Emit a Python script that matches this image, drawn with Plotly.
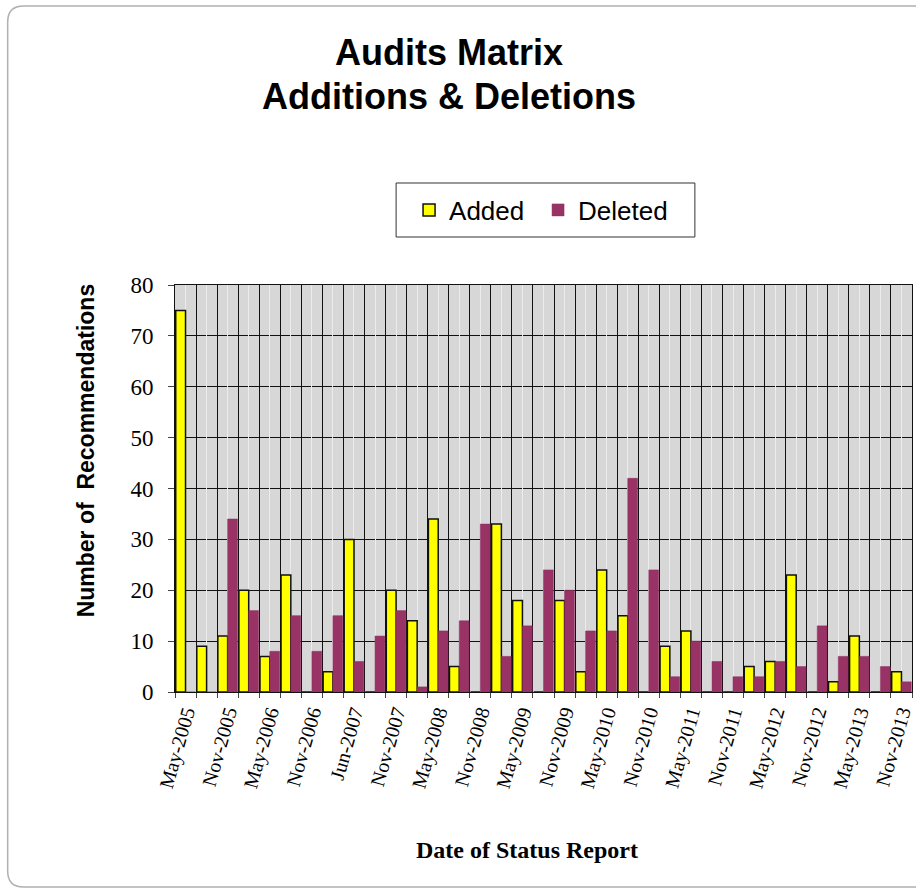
import plotly.graph_objects as go

categories = [
    "May-2005", "Aug-2005", "Nov-2005", "Feb-2006", "May-2006", "Aug-2006",
    "Nov-2006", "Mar-2007", "Jun-2007", "Aug-2007", "Nov-2007", "Feb-2008",
    "May-2008", "Aug-2008", "Nov-2008", "Feb-2009", "May-2009", "Aug-2009",
    "Nov-2009", "Feb-2010", "May-2010", "Aug-2010", "Nov-2010", "Feb-2011",
    "May-2011", "Aug-2011", "Nov-2011", "Feb-2012", "May-2012", "Aug-2012",
    "Nov-2012", "Feb-2013", "May-2013", "Aug-2013", "Nov-2013",
]
added = [75, 9, 11, 20, 7, 23, 0, 4, 30, 0, 20, 14, 34, 5, 0, 33, 18, 0,
         18, 4, 24, 15, 0, 9, 12, 0, 0, 5, 6, 23, 0, 2, 11, 0, 4]
deleted = [0, 0, 34, 16, 8, 15, 8, 15, 6, 11, 16, 1, 12, 14, 33, 7, 13, 24,
           20, 12, 12, 42, 24, 3, 10, 6, 3, 3, 6, 5, 13, 7, 7, 5, 2]
shown_labels = categories[::2]

ticktext = [c if c in shown_labels else "" for c in categories]

W, H = 916, 891
L, R, T, B = 175, 915, 285, 692
pw, ph = R - L, B - T


def px(x):
    return (x - L) / pw


def py(y):
    return (B - y) / ph


fig = go.Figure()
fig.add_trace(go.Bar(
    x=categories, y=added, name="Added",
    marker=dict(color="#ffff00", line=dict(color="#111111", width=1.5)),
))
fig.add_trace(go.Bar(
    x=categories, y=deleted, name="Deleted",
    marker=dict(color="#993366", line=dict(color="#8a2d5c", width=0.5)),
))

# faint centre lines (texture of the plot background)
fig.add_trace(go.Scatter(x=[categories[0]], y=[None], xaxis="x2", showlegend=False,
                         hoverinfo="skip"))

fig.update_layout(
    width=W, height=H,
    margin=dict(l=L, r=W - R, t=T, b=H - B),
    paper_bgcolor="white",
    plot_bgcolor="#d7d7d7",
    barmode="group", bargap=0.07, bargroupgap=0,
    font=dict(family="Liberation Serif", color="black"),
    showlegend=True,
    legend=dict(
        orientation="h", x=px(410), y=py(210), xanchor="left", yanchor="middle",
        borderwidth=0, bgcolor="rgba(0,0,0,0)",
        font=dict(family="Liberation Sans", size=26, color="black"),
        entrywidth=84, itemwidth=30,
        traceorder="normal",
    ),
    xaxis=dict(
        type="category", tickmode="array", tickvals=categories, ticktext=ticktext,
        tickson="boundaries", ticks="outside", ticklen=5, tickcolor="#444",
        tickangle=-74, tickfont=dict(family="Liberation Serif", size=20),
        showgrid=True, gridcolor="#111111", gridwidth=1,
        showline=True, linecolor="#111111", linewidth=1, mirror=True,
        range=[-0.5, len(categories) - 0.5],
    ),
    xaxis2=dict(
        type="category", overlaying="x", matches="x", tickmode="array",
        tickvals=categories, showticklabels=False, ticks="",
        showgrid=True, gridcolor="#ececec", gridwidth=1, showline=False,
        range=[-0.5, len(categories) - 0.5],
    ),
    yaxis=dict(
        range=[0, 80], dtick=10, tickfont=dict(family="Liberation Serif", size=23),
        showgrid=True, gridcolor="#111111", gridwidth=1,
        showline=True, linecolor="#111111", linewidth=1, mirror=True,
        ticks="outside", ticklen=6, tickcolor="#444", ticklabelstandoff=10,
        zeroline=False,
    ),
    annotations=[
        dict(text="<b>Audits Matrix</b>", x=px(450), y=py(52), xref="paper", yref="paper",
             xanchor="center", yanchor="middle", showarrow=False,
             font=dict(family="Liberation Sans", size=36)),
        dict(text="<b>Additions & Deletions</b>", x=px(450), y=py(97), xref="paper",
             yref="paper", xanchor="center", yanchor="middle", showarrow=False,
             font=dict(family="Liberation Sans", size=36)),
        dict(text="<b>Number of  Recommendations</b>", x=px(86), y=py(450), xref="paper",
             yref="paper", xanchor="center", yanchor="middle", showarrow=False,
             textangle=-90, font=dict(family="Liberation Sans", size=23)),
        dict(text="<b>Date of Status Report</b>", x=px(528), y=py(850), xref="paper",
             yref="paper", xanchor="center", yanchor="middle", showarrow=False,
             font=dict(family="Liberation Serif", size=24)),
    ],
)

# legend frame
fig.add_shape(type="rect", xref="paper", yref="paper",
              x0=px(397), x1=px(697), y0=py(237), y1=py(183),
              line=dict(color="#333333", width=1), layer="below")

# outer rounded frame of the chart area
x0, x1 = px(7), px(940)
y0, y1 = py(887), py(6)
rx, ry = 16 / pw, 16 / ph
path = (f"M {x0+rx},{y1} L {x1-rx},{y1} Q {x1},{y1} {x1},{y1-ry} L {x1},{y0+ry} "
        f"Q {x1},{y0} {x1-rx},{y0} L {x0+rx},{y0} Q {x0},{y0} {x0},{y0+ry} "
        f"L {x0},{y1-ry} Q {x0},{y1} {x0+rx},{y1} Z")
fig.add_shape(type="path", path=path, xref="paper", yref="paper",
              line=dict(color="#b0b0b0", width=1.5), layer="below")

fig.write_html("out.html")
